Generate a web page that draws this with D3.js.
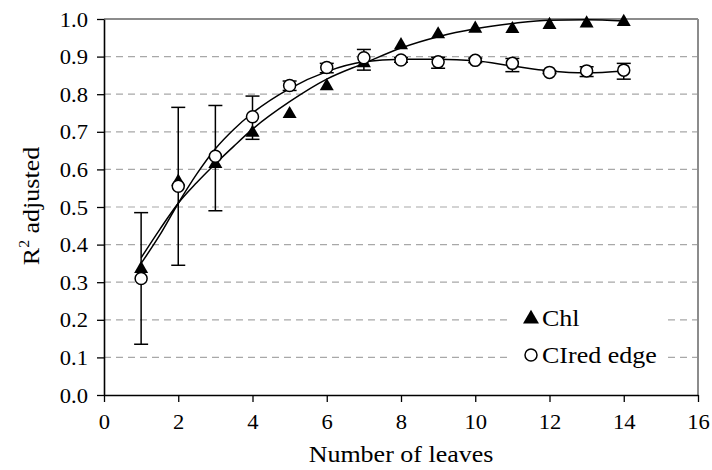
<!DOCTYPE html>
<html>
<head>
<meta charset="utf-8">
<script src="https://cdn.jsdelivr.net/npm/d3@7"></script>
<style>
  body { margin: 0; background: #fff; }
  text { font-family: "Liberation Serif", "Times New Roman", serif; fill: #000; }
</style>
</head>
<body>
<div id="chart"></div>
<script>
"use strict"

/* values */
const leaves = [1, 2, 3, 4, 5, 6, 7, 8, 9, 10, 11, 12, 13, 14];
const chlR2 = [0.338, 0.57, 0.617, 0.70, 0.75, 0.824, 0.885, 0.933, 0.962, 0.977, 0.976, 0.987, 0.991, 0.995];
const ciR2 = [0.31, 0.555, 0.635, 0.74, 0.823, 0.871, 0.897, 0.891, 0.886, 0.89, 0.882, 0.858, 0.862, 0.864];
const ciLow = [0.135, 0.345, 0.49, 0.68, 0.81, 0.857, 0.864, 0.885, 0.869, 0.884, 0.86, 0.855, 0.847, 0.84];
const ciHigh = [0.485, 0.765, 0.77, 0.795, 0.835, 0.882, 0.919, 0.897, 0.898, 0.896, 0.895, 0.862, 0.873, 0.882];

// the fitted curves, read at a few points
const trendX = [1, 1.5, 2, 2.5, 3, 3.5, 4, 5, 6, 7, 8, 9, 10, 11, 12, 13, 14];
const chlTrend = [0.365, 0.44, 0.51, 0.565, 0.615, 0.662, 0.707, 0.78, 0.84, 0.882, 0.923, 0.953, 0.974, 0.988, 0.997, 0.998, 0.995];
const ciTrend = [0.35, 0.425, 0.51, 0.588, 0.655, 0.707, 0.75, 0.815, 0.86, 0.886, 0.893, 0.893, 0.889, 0.875, 0.862, 0.857, 0.862];

const xTicks = [0, 2, 4, 6, 8, 10, 12, 14, 16];
const yTicks = [0, 0.1, 0.2, 0.3, 0.4, 0.5, 0.6, 0.7, 0.8, 0.9, 1.0];
const seriesNames = ["Chl", "CIred edge"];

const W = 712, H = 470;
const plotL = 104, plotR = 698, plotT = 19, plotB = 395;
const stretch = 1.13; // the reference text is wider than plain Times

let svg = d3.select("#chart").append("svg")
    .attr("width", W)
    .attr("height", H);

let x = d3.scaleLinear().domain([0, 16]).range([plotL, plotR]);
let y = d3.scaleLinear().domain([0, 1]).range([plotB, plotT]);

/* dashed gridlines */
svg.append("g").selectAll("line")
    .data(yTicks.filter(d => d > 0 && d < 1))
    .join("line")
    .attr("x1", plotL).attr("x2", plotR)
    .attr("y1", d => y(d)).attr("y2", d => y(d))
    .attr("stroke", "#a8a8a8")
    .attr("stroke-width", 1.2)
    .attr("stroke-dasharray", "7,5");

// gray frame on top and right
svg.append("line").attr("x1", plotL).attr("x2", plotR).attr("y1", plotT).attr("y2", plotT)
    .attr("stroke", "#8c8c8c").attr("stroke-width", 2);
svg.append("line").attr("x1", plotR).attr("x2", plotR).attr("y1", plotT).attr("y2", plotB)
    .attr("stroke", "#8c8c8c").attr("stroke-width", 2);

/* legend box hides the grid */
svg.append("rect")
    .attr("x", 512).attr("y", 300)
    .attr("width", 153).attr("height", 72)
    .attr("fill", "#fff");

/* axes */
let yAxis = svg.append("g")
    .attr("transform", `translate(${plotL},0)`)
    .call(d3.axisLeft(y).tickValues(yTicks).tickFormat(d3.format(".1f")).tickSize(7).tickSizeOuter(0));
let xAxis = svg.append("g")
    .attr("transform", `translate(0,${plotB})`)
    .call(d3.axisBottom(x).tickValues(xTicks).tickSize(7).tickSizeOuter(0).tickPadding(13));

[yAxis, xAxis].forEach(a => {
    a.select(".domain").attr("stroke", "#000").attr("stroke-width", 1.6);
    a.selectAll(".tick line").attr("stroke", "#000").attr("stroke-width", 1.3);
    a.selectAll("text").attr("font-size", 20).attr("font-family", null);
});
yAxis.selectAll("text")
    .attr("x", -16 / stretch)
    .attr("dy", "0.35em")
    .attr("transform", `scale(${stretch},1)`);
xAxis.selectAll("text")
    .attr("transform", `scale(${stretch},1)`);

/* fitted curves */
let line = d3.line().curve(d3.curveMonotoneX);
[chlTrend, ciTrend].forEach(t => {
    svg.append("path")
        .attr("d", line(trendX.map((v, i) => [x(v), y(t[i])])))
        .attr("fill", "none")
        .attr("stroke", "#000")
        .attr("stroke-width", 1.5);
});

/* error bars */
let bars = svg.append("g").attr("stroke", "#000").attr("stroke-width", 1.5);
leaves.forEach((l, i) => {
    let cx = x(l);
    bars.append("line").attr("x1", cx).attr("x2", cx).attr("y1", y(ciLow[i])).attr("y2", y(ciHigh[i]));
    [ciLow[i], ciHigh[i]].forEach(v => {
        bars.append("line").attr("x1", cx - 7).attr("x2", cx + 7).attr("y1", y(v)).attr("y2", y(v));
    });
});

/* markers */
let tri = d3.symbol().type(d3.symbolTriangle).size(85);
svg.append("g").selectAll("path")
    .data(leaves)
    .join("path")
    .attr("d", tri)
    .attr("transform", (d, i) => `translate(${x(d)},${y(chlR2[i]) + 1})`)
    .attr("fill", "#000");

svg.append("g").selectAll("circle")
    .data(leaves)
    .join("circle")
    .attr("cx", d => x(d))
    .attr("cy", (d, i) => y(ciR2[i]))
    .attr("r", 6)
    .attr("fill", "#fff")
    .attr("stroke", "#000")
    .attr("stroke-width", 1.5);

/* legend */
svg.append("path")
    .attr("d", d3.symbol().type(d3.symbolTriangle).size(110))
    .attr("transform", "translate(531,319)")
    .attr("fill", "#000");
svg.append("circle")
    .attr("cx", 531).attr("cy", 355).attr("r", 6)
    .attr("fill", "#fff").attr("stroke", "#000").attr("stroke-width", 1.5);
seriesNames.forEach((n, i) => {
    svg.append("text")
        .attr("transform", `translate(542,${326 + i * 37}) scale(${stretch},1)`)
        .attr("font-size", 23)
        .text(n);
});

/* axis titles */
svg.append("text")
    .attr("transform", `translate(${(plotL + plotR) / 2},462) scale(${stretch},1)`)
    .attr("text-anchor", "middle")
    .attr("font-size", 23)
    .text("Number of leaves");

let yt = svg.append("text")
    .attr("transform", `translate(39,206) rotate(-90) scale(${stretch},1)`)
    .attr("text-anchor", "middle")
    .attr("font-size", 23);
yt.append("tspan").text("R");
yt.append("tspan").attr("font-size", 14).attr("dy", -10).text("2");
yt.append("tspan").attr("dy", 10).text(" adjusted");
</script>
</body>
</html>
